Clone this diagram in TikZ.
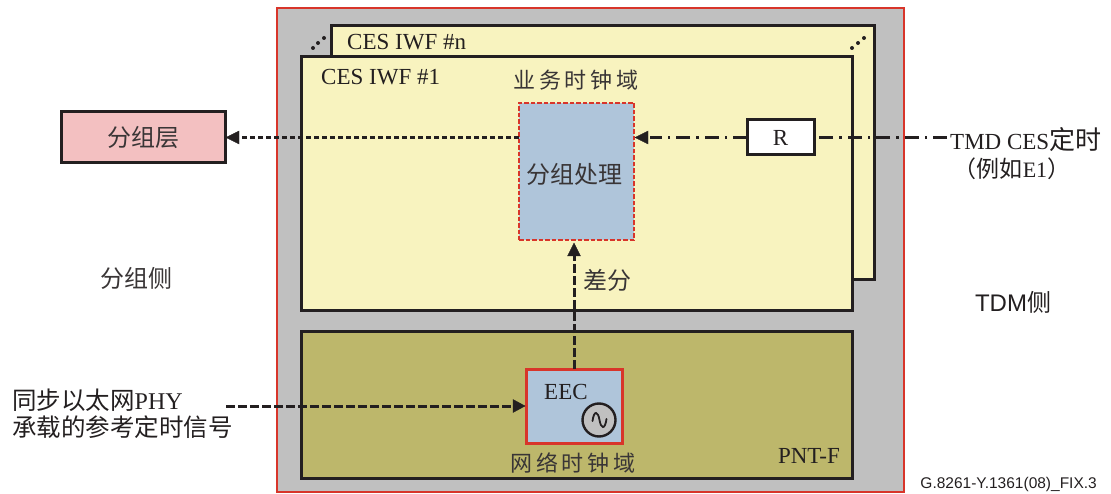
\documentclass[tikz,border=0pt]{standalone}
\usepackage{fontspec}
\setmainfont{Liberation Serif}
\newfontfamily\cjk{Noto Sans CJK SC}
\newfontfamily\lsans{Liberation Sans}
\usetikzlibrary{arrows.meta}
\definecolor{redb}{HTML}{D8352A}
\definecolor{greyb}{HTML}{C0C0C0}
\definecolor{yellowb}{HTML}{F8F3BF}
\definecolor{oliveb}{HTML}{BDB76B}
\definecolor{blueb}{HTML}{AFC5DA}
\definecolor{pinkb}{HTML}{F3C0C1}
\definecolor{inkb}{HTML}{231F20}
\tikzset{
  box/.style={draw=inkb,line width=3pt,inner sep=0pt,outer sep=0pt,anchor=north west},
  lab/.style={text=inkb,inner sep=0pt,font=\fontsize{23}{26}\selectfont},
  zh/.style={text=inkb!90,inner sep=0pt,font=\cjk\fontsize{24}{28}\selectfont},
  zhs/.style={text=inkb!90,inner sep=0pt,font=\cjk\fontsize{22}{26}\selectfont},
  mix/.style={text=inkb,inner sep=0pt,font=\fontsize{24}{28}\selectfont},
  pktline/.style={draw=inkb,line width=2.4pt,dash pattern=on 5pt off 3pt},
  tdmline/.style={draw=inkb,line width=2.4pt,dash pattern=on 14pt off 6pt on 2.5pt off 6pt},
  synline/.style={draw=inkb,line width=3pt,dash pattern=on 9pt off 3pt},
  dot3/.style={fill=inkb,circle,minimum size=4pt,inner sep=0pt}
}
\newcommand{\zhmix}[1]{{\cjk\fontsize{24.5}{28}\selectfont #1}}
\newcommand{\zhtmd}[1]{{\cjk\fontsize{23}{26}\selectfont #1}}
\newcommand{\zhbig}[1]{{\cjk\fontsize{26}{28}\selectfont #1}}
\begin{document}
\begin{tikzpicture}[x=1pt,y=-1pt]
\useasboundingbox (0,0) rectangle (1111,494);
\node[box,fill=greyb,draw=redb,line width=2.8pt,minimum width=627pt,minimum height=484pt] (outer) at (277,8) {};
\node[box,fill=yellowb,minimum width=543pt,minimum height=254pt] (cesn) at (331,26) {};
\node[box,fill=yellowb,minimum width=551pt,minimum height=254pt] (ces1) at (301,57) {};
\node[box,fill=oliveb,minimum width=551pt,minimum height=147pt] (pnt) at (301,331) {};
\node[box,fill=blueb,draw=redb,line width=2.6pt,dash pattern=on 4.5pt off 2pt,minimum width=115pt,minimum height=137pt] (proc) at (519,103) {};
\node[box,fill=white,minimum width=67pt,minimum height=35pt] (r) at (747,120) {};
\node[lab] (rt) at (r.center) {R};
\node[box,fill=blueb,draw=redb,line width=3pt,minimum width=96pt,minimum height=74pt] (eec) at (526,369) {};
\node[box,fill=pinkb,line width=3pt,minimum width=164pt,minimum height=51pt] (pkt) at (61,112) {};
\node[zh] (pktt) at (pkt.center) {分组层};
\node[zh,anchor=center] (proctxt) at (574,174) {分组处理};
\node[lab,anchor=west] (lcesn) at (347,42) {CES IWF \#n};
\node[lab,anchor=west] (lces1) at (321,77) {CES IWF \#1};
\node[zhs,anchor=center] (svc) at (576,80) {业\,务\,时\,钟\,域};
\node[zhs,anchor=center] (net) at (573,463) {网\,络\,时\,钟\,域};
\node[lab,anchor=east] (lpnt) at (840,456) {PNT-F};
\node[lab,anchor=west] (leec) at (544,392) {EEC};
\node[zh,anchor=west] (diff) at (583,280) {差分};
\node[zh,anchor=center] (pside) at (136,278) {分组侧};
\node[text=inkb,inner sep=0pt,font=\lsans\fontsize{24}{26}\selectfont,anchor=center] (tside) at (1013,302) {TDM{\cjk 侧}};
\node[text=inkb,inner sep=0pt,anchor=east,font=\lsans\fontsize{15.5}{17}\selectfont] (ref) at (1097,484) {G.8261-Y.1361(08)\_FIX.3};
\node[text=inkb,inner sep=0pt,anchor=west,font=\fontsize{23}{26}\selectfont] (tmd) at (950,140) {TMD CES\zhbig{定时}};
\node[text=inkb,inner sep=0pt,anchor=center,font=\fontsize{22}{24}\selectfont] (e1) at (1012,169) {\zhtmd{（例如}E1\zhtmd{）}};
\node[mix,anchor=west] (s1) at (12,400) {\zhmix{同步以太网}PHY};
\node[mix,anchor=west] (s2) at (12,427) {\zhmix{承载的参考定时信号}};
\coordinate (syncstart) at (226,406);
\coordinate (tmdend) at (947,137.5);
\foreach \a/\x/\y in {a/313/48,b/318/43,c/324/38,d/852/48,e/858/43,f/864/38}
  \node[dot3] (d\a) at (\x,\y) {};
\node[draw=inkb,fill=greyb,line width=2.4pt,circle,minimum size=33pt,inner sep=0pt] (osc) at (599,420) {};
\draw[inkb,line width=1.8pt,line cap=round] (592.5,421) .. controls (594,410) and (598,411) .. (599.5,420) .. controls (601,429) and (605,430) .. (606.5,419);
\draw[pktline] (proc.west |- 0,137.5) -- (240,137.5);
\draw[inkb,fill=inkb] (226,137.5) -- (239,131) -- (239,144) -- cycle;
\draw[tdmline] (tmdend) -- (r.east |- tmdend);
\draw[tdmline] (r.west |- tmdend) -- (650,137.5);
\draw[inkb,fill=inkb] (635,137.5) -- (648,131) -- (648,144) -- cycle;
\draw[synline] (eec.north -| 574,0) -- (574,256);
\draw[inkb,fill=inkb] (574,243) -- (567.5,256) -- (580.5,256) -- cycle;
\draw[synline] (syncstart) -- (514,406);
\draw[inkb,fill=inkb] (525,406) -- (513,399.5) -- (513,412.5) -- cycle;
\end{tikzpicture}
\end{document}
